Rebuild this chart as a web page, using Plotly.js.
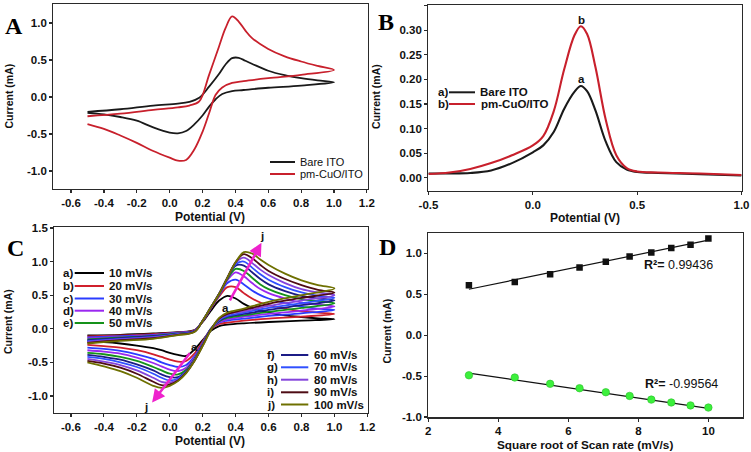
<!DOCTYPE html>
<html><head><meta charset="utf-8">
<script src="https://cdn.plot.ly/plotly-3.0.1.min.js"></script>
<style>html,body{margin:0;padding:0;background:#fff}#chart{width:751px;height:452px}</style>
</head><body><div id="chart"></div>
<script>
// ---------- Panel A : CV, bare ITO vs pm-CuO/ITO ----------
const aFwdX = [-0.5,-0.3,-0.1,0.05,0.12,0.18,0.24,0.3,0.34,0.38,0.42,0.46,0.5,0.6,0.7,0.8,0.9,1.0];
const aRevX = [0.8,0.6,0.45,0.38,0.32,0.28,0.24,0.2,0.15,0.1,0.05,0.0,-0.1,-0.2,-0.3,-0.4,-0.5];
const aBareFwd = [-0.20,-0.165,-0.115,-0.09,-0.065,-0.01,0.14,0.31,0.44,0.525,0.53,0.49,0.45,0.355,0.295,0.255,0.225,0.20];
const aBareRev = [0.155,0.125,0.095,0.08,0.04,-0.03,-0.13,-0.25,-0.37,-0.46,-0.49,-0.48,-0.41,-0.32,-0.27,-0.235,-0.215];
const aCuFwd = [-0.26,-0.225,-0.175,-0.14,-0.115,-0.06,0.30,0.68,0.93,1.09,1.02,0.90,0.80,0.65,0.55,0.48,0.42,0.365];
const aCuRev = [0.30,0.255,0.215,0.19,0.13,0.03,-0.22,-0.47,-0.71,-0.85,-0.86,-0.82,-0.73,-0.62,-0.52,-0.43,-0.365];
const aNames = ['Bare ITO','pm-CuO/ITO'];

// ---------- Panel B : DPV ----------
const bX = [-0.5,-0.4,-0.3,-0.2,-0.1,0.0,0.05,0.1,0.15,0.2,0.23,0.26,0.3,0.35,0.4,0.45,0.5,0.6,0.8,1.0];
const bBare = [0.009,0.009,0.010,0.015,0.030,0.052,0.066,0.093,0.140,0.175,0.1865,0.176,0.137,0.073,0.032,0.017,0.012,0.010,0.0075,0.005];
const bCuO = [0.008,0.011,0.018,0.030,0.046,0.066,0.085,0.135,0.220,0.290,0.308,0.292,0.225,0.117,0.046,0.020,0.013,0.011,0.009,0.006];

// ---------- Panel C : CV at scan rates 10-100 mV/s ----------
const cFwdX = [-0.5,-0.3,-0.1,0.05,0.15,0.2,0.25,0.3,0.35,0.4,0.45,0.5,0.55,0.6,0.7,0.8,0.9,1.0];
const cRevX = [0.8,0.6,0.45,0.35,0.3,0.25,0.2,0.15,0.1,0.05,0.0,-0.05,-0.1,-0.2,-0.3,-0.4,-0.5];
const cRates = ['10 mV/s','20 mV/s','30 mV/s','40 mV/s','50 mV/s','60 mV/s','70 mV/s','80 mV/s','90 mV/s','100 mV/s'];
const cTags = ['a)','b)','c)','d)','e)','f)','g)','h)','i)','j)'];
const cFwd10 = [-0.10,-0.09,-0.07,-0.05,-0.02,0.10,0.27,0.42,0.49,0.45,0.37,0.31,0.27,0.24,0.20,0.175,0.155,0.14];
const cFwd20 = [-0.115,-0.10,-0.08,-0.055,-0.025,0.11,0.30,0.48,0.62,0.62,0.53,0.45,0.39,0.35,0.30,0.26,0.24,0.22];
const cFwd30 = [-0.13,-0.11,-0.09,-0.06,-0.03,0.115,0.31,0.50,0.68,0.73,0.66,0.57,0.50,0.45,0.38,0.33,0.30,0.28];
const cFwd40 = [-0.145,-0.12,-0.10,-0.065,-0.03,0.12,0.31,0.51,0.72,0.84,0.78,0.68,0.59,0.53,0.45,0.39,0.36,0.33];
const cFwd50 = [-0.16,-0.13,-0.105,-0.07,-0.035,0.12,0.32,0.51,0.74,0.89,0.86,0.76,0.66,0.59,0.50,0.44,0.41,0.38];
const cFwd60 = [-0.17,-0.14,-0.11,-0.075,-0.035,0.12,0.32,0.52,0.75,0.94,0.94,0.84,0.74,0.66,0.56,0.49,0.45,0.42];
const cFwd70 = [-0.185,-0.15,-0.12,-0.08,-0.04,0.12,0.32,0.52,0.76,0.96,1.00,0.91,0.81,0.73,0.62,0.54,0.49,0.46];
const cFwd80 = [-0.195,-0.16,-0.13,-0.085,-0.04,0.12,0.32,0.52,0.76,0.98,1.06,0.98,0.88,0.80,0.68,0.59,0.54,0.50];
const cFwd90 = [-0.21,-0.17,-0.14,-0.09,-0.045,0.12,0.32,0.52,0.76,0.99,1.11,1.05,0.95,0.86,0.74,0.65,0.58,0.54];
const cFwd100 = [-0.22,-0.18,-0.15,-0.095,-0.05,0.12,0.32,0.52,0.76,0.99,1.14,1.12,1.03,0.95,0.82,0.72,0.65,0.60];
const cRev10 = [0.12,0.10,0.08,0.06,0.04,-0.03,-0.17,-0.31,-0.405,-0.39,-0.36,-0.32,-0.29,-0.25,-0.22,-0.20,-0.19];
const cRev20 = [0.18,0.15,0.12,0.09,0.07,-0.01,-0.19,-0.37,-0.48,-0.49,-0.46,-0.42,-0.38,-0.32,-0.28,-0.26,-0.24];
const cRev30 = [0.23,0.19,0.15,0.12,0.09,0.0,-0.21,-0.41,-0.54,-0.57,-0.54,-0.50,-0.45,-0.38,-0.33,-0.30,-0.28];
const cRev40 = [0.27,0.22,0.18,0.14,0.10,0.0,-0.22,-0.43,-0.58,-0.63,-0.61,-0.56,-0.51,-0.43,-0.37,-0.34,-0.32];
const cRev50 = [0.31,0.25,0.20,0.16,0.11,0.0,-0.23,-0.45,-0.61,-0.68,-0.67,-0.62,-0.57,-0.48,-0.42,-0.38,-0.36];
const cRev60 = [0.35,0.28,0.22,0.18,0.12,0.0,-0.24,-0.46,-0.63,-0.72,-0.72,-0.68,-0.62,-0.53,-0.46,-0.42,-0.39];
const cRev70 = [0.38,0.31,0.24,0.19,0.13,-0.01,-0.24,-0.47,-0.64,-0.74,-0.77,-0.73,-0.67,-0.57,-0.50,-0.45,-0.42];
const cRev80 = [0.42,0.34,0.26,0.21,0.14,-0.01,-0.25,-0.47,-0.65,-0.76,-0.80,-0.79,-0.73,-0.62,-0.54,-0.49,-0.45];
const cRev90 = [0.46,0.37,0.28,0.22,0.15,-0.01,-0.25,-0.48,-0.65,-0.77,-0.83,-0.84,-0.79,-0.67,-0.58,-0.52,-0.48];
const cRev100 = [0.50,0.40,0.30,0.24,0.16,-0.02,-0.26,-0.48,-0.66,-0.78,-0.85,-0.88,-0.85,-0.73,-0.63,-0.56,-0.50];

// ---------- Panel D : peak current vs sqrt(scan rate) ----------
const dX = [3.16,4.47,5.48,6.32,7.07,7.75,8.37,8.94,9.49,10.0];
const dIpa = [0.61,0.65,0.744,0.827,0.898,0.962,1.01,1.066,1.105,1.18];
const dIpc = [-0.49,-0.517,-0.594,-0.648,-0.697,-0.742,-0.787,-0.822,-0.858,-0.884];
const dFitX = [3.16,10.0];
const dFitIpa = [0.561,1.16];
const dFitIpc = [-0.463,-0.895];
const dR2 = ['0.99436','-0.99564'];

// ---------- ticks ----------
const cvTicksX = [-0.6,-0.4,-0.2,0,0.2,0.4,0.6,0.8,1.0,1.2];
const aTicksY = [-1.0,-0.5,0,0.5,1.0];
const bTicksX = [-0.5,0,0.5,1.0];
const bTicksY = [0,0.05,0.10,0.15,0.20,0.25,0.30,0.35];
const cTicksY = [-1.0,-0.5,0,0.5,1.0,1.5];
const dTicksX = [2,4,6,8,10];
const dTicksY = [-1.0,-0.5,0,0.5,1.0];

// ================= build =================
const W = 751, H = 452;
const px = x => x / W, py = y => 1 - y / H;
const SANS = 'Liberation Sans, Arial, sans-serif';
const SERIF = 'Liberation Serif, Times New Roman, serif';
const aColors = ['#1a1a1a','#c8202c'];
const cColors = ['#000000','#d0202c','#2a3cff','#9a28f0','#15921a','#1c1c86','#3050ff','#8444dc','#4e0c14','#6e7000'];

const traces = [];
const aY = [aBareFwd.concat(aBareRev), aCuFwd.concat(aCuRev)];
aY.forEach((y,i)=>traces.push({type:'scatter',mode:'lines',name:aNames[i],x:aFwdX.concat(aRevX),y:y,
  xaxis:'x',yaxis:'y',line:{color:aColors[i],width:1.8,shape:'spline',smoothing:1}}));
[bBare,bCuO].forEach((y,i)=>traces.push({type:'scatter',mode:'lines',name:aNames[i],x:bX,y:y,
  xaxis:'x2',yaxis:'y2',line:{color:aColors[i],width:2.1,shape:'spline',smoothing:1}}));
const cF = [cFwd10,cFwd20,cFwd30,cFwd40,cFwd50,cFwd60,cFwd70,cFwd80,cFwd90,cFwd100];
const cR = [cRev10,cRev20,cRev30,cRev40,cRev50,cRev60,cRev70,cRev80,cRev90,cRev100];
cF.forEach((f,i)=>traces.push({type:'scatter',mode:'lines',name:cRates[i],x:cFwdX.concat(cRevX),y:f.concat(cR[i]),
  xaxis:'x3',yaxis:'y3',line:{color:cColors[i],width:1.8,shape:'spline',smoothing:1}}));
traces.push({type:'scatter',mode:'lines',x:dFitX,y:dFitIpa,xaxis:'x4',yaxis:'y4',line:{color:'#111',width:1.2}});
traces.push({type:'scatter',mode:'lines',x:dFitX,y:dFitIpc,xaxis:'x4',yaxis:'y4',line:{color:'#111',width:1.2}});
traces.push({type:'scatter',mode:'markers',name:'Ipa',x:dX,y:dIpa,xaxis:'x4',yaxis:'y4',
  marker:{symbol:'square',size:6.5,color:'#111'}});
traces.push({type:'scatter',mode:'markers',name:'Ipc',x:dX,y:dIpc,xaxis:'x4',yaxis:'y4',
  marker:{symbol:'circle',size:7.5,color:'#3cf03c',line:{color:'#2cc02c',width:0.6}}});

const lab = (v,d)=>v.toFixed(d);
const axBase = {showline:true,mirror:true,linecolor:'#2a2a2a',linewidth:1.2,ticks:'outside',ticklen:3,tickwidth:1.2,
  tickcolor:'#2a2a2a',showgrid:false,zeroline:false,tickmode:'array',fixedrange:true,
  tickfont:{family:SANS,size:11.5,color:'#111',weight:'bold'}};
const mk = (o)=>Object.assign({},axBase,o);

const layout = {
  width:W,height:H,margin:{l:0,r:0,t:0,b:0},paper_bgcolor:'#fff',plot_bgcolor:'#fff',showlegend:false,
  xaxis: mk({domain:[px(53.3),px(368)],range:[-0.708,1.207],anchor:'y',tickvals:cvTicksX,ticktext:cvTicksX.map(v=>lab(v,1))}),
  yaxis: mk({domain:[py(189),py(4)],range:[-1.243,1.257],anchor:'x',tickvals:aTicksY,ticktext:aTicksY.map(v=>lab(v,1))}),
  xaxis2: mk({domain:[px(428.3),px(741.7)],range:[-0.501,1.001],anchor:'y2',tickvals:bTicksX,ticktext:bTicksX.map(v=>lab(v,1))}),
  yaxis2: mk({domain:[py(190.7),py(5)],range:[-0.026,0.351],anchor:'x2',tickvals:bTicksY,ticktext:bTicksY.map(v=>lab(v,2))}),
  xaxis3: mk({domain:[px(54.3),px(367.7)],range:[-0.701,1.202],anchor:'y3',tickvals:cvTicksX,ticktext:cvTicksX.map(v=>lab(v,1))}),
  yaxis3: mk({domain:[py(412.7),py(227.3)],range:[-1.25,1.51],anchor:'x3',tickvals:cTicksY,ticktext:cTicksY.map(v=>lab(v,1))}),
  xaxis4: mk({domain:[px(428.3),px(742.7)],range:[2,10.98],anchor:'y4',tickvals:dTicksX,ticktext:dTicksX.map(v=>String(v))}),
  yaxis4: mk({domain:[py(417.3),py(233.3)],range:[-1.003,1.244],anchor:'x4',tickvals:dTicksY,ticktext:dTicksY.map(v=>lab(v,1))}),
  annotations:[], shapes:[]
};
const A = layout.annotations, S = layout.shapes;
const note = (x,y,text,o)=>A.push(Object.assign({xref:'paper',yref:'paper',x:px(x),y:py(y),text:text,showarrow:false,
  xanchor:'center',yanchor:'middle',font:{family:SANS,size:11,color:'#111'}},o||{}));
const legLine = (x0,x1,y,color)=>S.push({type:'line',xref:'paper',yref:'paper',x0:px(x0),x1:px(x1),y0:py(y),y1:py(y),
  line:{color:color,width:2}});

// panel letters
[['A',14.5,26],['B',386,22],['C',15,248],['D',387.5,247]].forEach(l=>note(l[1],l[2],'<b>'+l[0]+'</b>',
  {font:{family:SERIF,size:24,color:'#000'}}));
// axis titles
const yt = {textangle:-90,font:{family:SANS,size:10.5,color:'#111'}};
note(8,96.5,'<b>Current (mA)</b>',yt);
note(376,97,'<b>Current (mA)</b>',yt);
note(8,322,'<b>Current (mA)</b>',yt);
note(386.5,331,'<b>Current (mA)</b>',yt);
const xt = {font:{family:SANS,size:12,color:'#111'}};
note(210,216.7,'<b>Potential (V)</b>',xt);
note(585,218.3,'<b>Potential (V)</b>',xt);
note(210,440.7,'<b>Potential (V)</b>',xt);
note(585,444.5,'<b>Square root of Scan rate (mV/s)</b>',{font:{family:SANS,size:11.8,color:'#111'}});

// legend A
[162,174].forEach((y,i)=>{legLine(270,295,y,aColors[i]);
  note(298,y,aNames[i],{xanchor:'left',font:{family:SANS,size:11,color:'#111'}});});
// legend B
const lb = {xanchor:'left',font:{family:SANS,size:11.5,color:'#111'}};
[92.3,104].forEach((y,i)=>{note(436,y,'<b>'+['a)','b)'][i]+'</b>',lb);legLine(449,475,y,aColors[i]);
  note(478.5,y,'<b>'+aNames[i]+'</b>',lb);});
// legend C (two blocks)
const cRows = [273,286,298.5,310.7,323,355,367.3,379.7,392.3,404.5];
cRows.forEach((y,i)=>{
  const top = i<5;
  note(top?61.3:265,y,'<b>'+cTags[i]+'</b>',lb);
  legLine(top?74.7:281,top?104:308.3,y,cColors[i]);
  note(top?106.7:311.7,y,'<b>'+cRates[i]+'</b>',lb);
});

// panel B peak labels
const dl = {showarrow:false,font:{family:SANS,size:11.5,color:'#111'}};
A.push(Object.assign({xref:'x2',yref:'y2',x:0.234,y:0.321,text:'<b>b</b>'},dl));
A.push(Object.assign({xref:'x2',yref:'y2',x:0.234,y:0.2015,text:'<b>a</b>'},dl));
// panel C arrows (label "a" sits at the arrow tail) + "j" labels at the heads
const MAG = '#ee22cc';
const arrowFont = {family:SANS,size:11.5,color:'#111'};
A.push({xref:'x3',yref:'y3',axref:'x3',ayref:'y3',x:0.557,y:1.28,ax:0.34,ay:0.31,text:'<b>a</b>',font:arrowFont,
  showarrow:true,arrowhead:2,arrowsize:1,arrowwidth:2.6,arrowcolor:MAG,standoff:0,startstandoff:0});
A.push({xref:'x3',yref:'y3',axref:'x3',ayref:'y3',x:-0.107,y:-1.10,ax:0.152,ay:-0.266,text:'<b>a</b>',font:arrowFont,
  showarrow:true,arrowhead:2,arrowsize:1,arrowwidth:2.6,arrowcolor:MAG,standoff:0,startstandoff:0});
A.push(Object.assign({xref:'x3',yref:'y3',x:0.563,y:1.38,text:'<b>j</b>'},dl));
A.push(Object.assign({xref:'x3',yref:'y3',x:-0.147,y:-1.16,text:'<b>j</b>'},dl));
// panel D R² labels
A.push({xref:'x4',yref:'y4',x:8.1,y:0.854,xanchor:'left',yanchor:'middle',showarrow:false,
  text:'<b>R²=</b> '+dR2[0],font:{family:SANS,size:12.5,color:'#111'}});
A.push({xref:'x4',yref:'y4',x:8.14,y:-0.594,xanchor:'left',yanchor:'middle',showarrow:false,
  text:'<b>R²=</b> '+dR2[1],font:{family:SANS,size:12.5,color:'#111'}});

Plotly.newPlot('chart',traces,layout,{displayModeBar:false,staticPlot:true});
</script></body></html>
